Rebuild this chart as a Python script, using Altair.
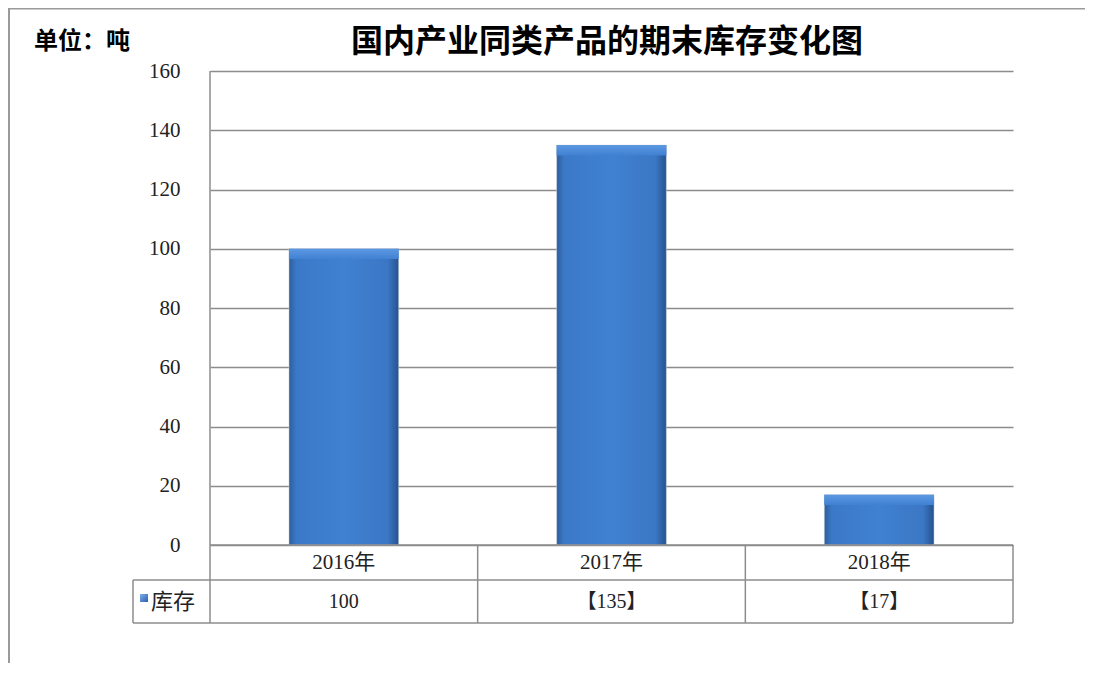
import altair as alt
import pandas as pd

categories = ["2016年", "2017年", "2018年"]
values = [100, 135, 17]
value_labels = ["100", "【135】", "【17】"]
series_name = "库存"
title_text = "国内产业同类产品的期末库存变化图"
unit_text = "单位：吨"

W, H = 803, 474
PL, PT = 202, 63
ROW1, ROW2 = 35, 78  # table row bottoms below plot
SERIF = "Liberation Serif, Noto Sans CJK SC"
SANS = "Noto Sans CJK SC"
GRID = "#8c8c8c"

df = pd.DataFrame({"cat": categories, "val": values, "lab": value_labels})

xscale = alt.Scale(domain=categories, paddingInner=0.59, paddingOuter=0.295)
yscale = alt.Scale(domain=[0, 160])

grad = alt.Gradient(
    gradient="linear",
    stops=[
        alt.GradientStop(color="#2d5e9e", offset=0),
        alt.GradientStop(color="#3b79c8", offset=0.07),
        alt.GradientStop(color="#4081d2", offset=0.5),
        alt.GradientStop(color="#3b77c4", offset=0.9),
        alt.GradientStop(color="#26528f", offset=1),
    ],
    x1=0, x2=1, y1=0, y2=0,
)

base = alt.Chart(df)

bars = base.mark_bar(fill=grad, stroke="#d8d8d8", strokeWidth=0.5).encode(
    x=alt.X("cat:N", scale=xscale, axis=None, sort=categories),
    y=alt.Y(
        "val:Q",
        scale=yscale,
        axis=alt.Axis(
            values=list(range(0, 161, 20)),
            grid=True,
            gridColor=GRID,
            gridWidth=1.5,
            domain=False,
            ticks=False,
            labelFont="Liberation Serif",
            labelFontSize=21,
            labelColor="#222222",
            labelPadding=30,
            title=None,
        ),
    ),
)

# top bevel highlight
bevel = base.mark_bar(
    fill=alt.Gradient(
        gradient="linear",
        stops=[
            alt.GradientStop(color="#5d98e2", offset=0),
            alt.GradientStop(color="#4081d2", offset=1),
        ],
        x1=0, x2=0, y1=0, y2=1,
    ),
).encode(
    x=alt.X("cat:N", scale=xscale, sort=categories),
    y=alt.Y("val:Q", scale=yscale),
    y2=alt.Y2("v2:Q"),
).transform_calculate(v2="datum.val - 3.5")

# table text
cat_text = base.mark_text(font=SERIF, fontSize=21, color="#222222", baseline="middle").encode(
    x=alt.X("cat:N", scale=xscale, sort=categories),
    y=alt.value(H + 18),
    text="cat:N",
)
val_text = base.mark_text(font=SERIF, fontSize=20, color="#222222", baseline="middle").encode(
    x=alt.X("cat:N", scale=xscale, sort=categories),
    y=alt.value(H + 57),
    text="lab:N",
)
name_df = pd.DataFrame({"name": [series_name]})
name_text = alt.Chart(name_df).mark_text(
    font=SANS, fontSize=22, color="#222222", align="left", baseline="middle"
).encode(x=alt.value(-59), y=alt.value(H + 57), text="name:N")
swatch = alt.Chart(name_df).mark_rect(
    fill=alt.Gradient(
        gradient="linear",
        stops=[alt.GradientStop(color="#7fb0ef", offset=0), alt.GradientStop(color="#2c5ea8", offset=1)],
        x1=0, x2=1, y1=0, y2=1,
    )
).encode(x=alt.value(-70), x2=alt.value(-62), y=alt.value(H + 49), y2=alt.value(H + 57))

title = alt.Chart(pd.DataFrame({"t": [title_text]})).mark_text(
    font=SANS, fontSize=32, fontWeight="bold", color="#000000", align="center", baseline="middle"
).encode(x=alt.value(397), y=alt.value(-29), text="t:N")
unit = alt.Chart(pd.DataFrame({"t": [unit_text]})).mark_text(
    font=SANS, fontSize=24, fontWeight="bold", color="#000000", align="left", baseline="middle"
).encode(x=alt.value(-176), y=alt.value(-29), text="t:N")

# table/frame lines
lines = []
rdf = pd.DataFrame({"k": [0]})
def hline(x1, x2, y, color=GRID, w=1.5):
    return alt.Chart(rdf).mark_rule(color=color, strokeWidth=w).encode(
        x=alt.value(x1), x2=alt.value(x2), y=alt.value(y))
def vline(x, y1, y2, color=GRID, w=1.5):
    return alt.Chart(rdf).mark_rule(color=color, strokeWidth=w).encode(
        x=alt.value(x), y=alt.value(y1), y2=alt.value(y2))

lines.append(hline(0, W, H))
lines.append(hline(-77, W, H + ROW1))
lines.append(hline(-77, W, H + ROW2))
lines.append(vline(0, 0, H + ROW2))
for i in range(1, 4):
    lines.append(vline(W * i / 3, H, H + ROW2))
lines.append(vline(-77, H + ROW1, H + ROW2))
# outer frame
lines.append(hline(-PL, W + 100, -PT + 0.5, "#9a9a9a", 2))
lines.append(vline(-PL + 1, -PT, H + 200, "#9a9a9a", 2))

chart = alt.layer(bars, bevel, cat_text, val_text, name_text, swatch, title, unit, *lines).properties(
    width=W,
    height=H,
    autosize=alt.AutoSizeParams(type="none"),
    padding={"left": PL, "top": PT, "right": 1077 - PL - W, "bottom": 655 - PT - H},
).configure_view(stroke=None)

chart.save("out.html", embed_options={"renderer": "svg", "actions": False})
